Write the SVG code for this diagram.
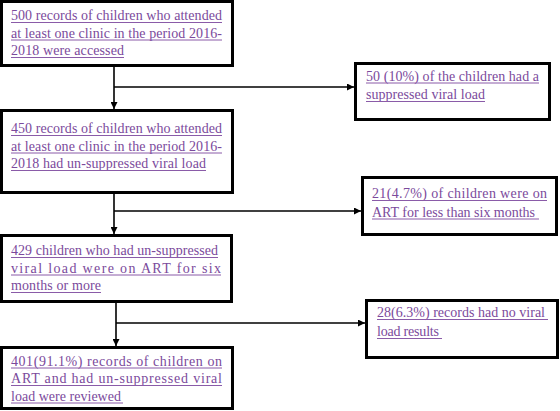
<svg xmlns="http://www.w3.org/2000/svg" width="560" height="411" viewBox="0 0 560 411">
<style>
.box{fill:#fff;stroke:#000;stroke-width:3}
.t{font-family:"Liberation Serif","Times New Roman","DejaVu Serif",serif;font-size:14px;fill:#7B4A9C}
.u{stroke:#8A5BA8;stroke-width:1}
.c{stroke:#000;stroke-width:1.6;fill:none}
</style>
<defs>
<marker id="ah" viewBox="0 0 10 10" refX="10" refY="5" markerWidth="7" markerHeight="7" markerUnits="userSpaceOnUse" orient="auto">
<path d="M0,0 L10,5 L0,10 z" fill="#000"/>
</marker>
</defs>
<rect width="560" height="411" fill="#fff"/>
<g id="connectors">
<path class="c" d="M114,66 V109" marker-end="url(#ah)"/>
<path class="c" d="M114,87 H354" marker-end="url(#ah)"/>
<path class="c" d="M114,193 V234" marker-end="url(#ah)"/>
<path class="c" d="M114,211 H361" marker-end="url(#ah)"/>
<path class="c" d="M116,302 V346" marker-end="url(#ah)"/>
<path class="c" d="M116,323 H365" marker-end="url(#ah)"/>
</g>
<g id="n1">
<rect class="box" x="1.5" y="1.5" width="231" height="64"/>
<text class="t" x="11" y="20" textLength="211" lengthAdjust="spacing">500 records of children who attended</text>
<text class="t" x="11" y="37.5" textLength="211" lengthAdjust="spacing">at least one clinic in the period 2016-</text>
<text class="t" x="11" y="55" textLength="113" lengthAdjust="spacing">2018 were accessed</text>
<path class="u" d="M11,22.5 H222 M11,40 H222 M11,57.5 H124"/>
</g>
<g id="n2">
<rect class="box" x="1.5" y="110.5" width="231" height="82"/>
<text class="t" x="11" y="133" textLength="211" lengthAdjust="spacing">450 records of children who attended</text>
<text class="t" x="11" y="150.5" textLength="211" lengthAdjust="spacing">at least one clinic in the period 2016-</text>
<text class="t" x="11" y="168" textLength="195" lengthAdjust="spacing">2018 had un-suppressed viral load</text>
<path class="u" d="M11,135.5 H222 M11,153 H222 M11,170.5 H206"/>
</g>
<g id="n3">
<rect class="box" x="355.5" y="63.5" width="194" height="56"/>
<text class="t" x="366" y="80.5" textLength="173" lengthAdjust="spacing">50 (10%) of the children had a</text>
<text class="t" x="366" y="99" textLength="119" lengthAdjust="spacing">suppressed viral load</text>
<path class="u" d="M366,83 H539 M366,101.5 H485"/>
</g>
<g id="n4">
<rect class="box" x="362.5" y="177.5" width="194" height="57"/>
<text class="t" x="372" y="198" textLength="175" lengthAdjust="spacing">21(4.7%) of children were on</text>
<text class="t" x="372" y="216.5" textLength="163" lengthAdjust="spacing">ART for less than six months</text>
<path class="u" d="M372,200.5 H547 M372,219 H539"/>
</g>
<g id="n5">
<rect class="box" x="1.5" y="235.5" width="230" height="66"/>
<text class="t" x="11" y="255" textLength="207" lengthAdjust="spacing">429 children who had un-suppressed</text>
<text class="t" x="11" y="272.5" textLength="210" lengthAdjust="spacing">viral load were on ART for six</text>
<text class="t" x="11" y="290" textLength="90" lengthAdjust="spacing">months or more</text>
<path class="u" d="M11,257.5 H218 M11,275 H221 M11,292.5 H101"/>
</g>
<g id="n6">
<rect class="box" x="366.5" y="300.5" width="191" height="57"/>
<text class="t" x="377" y="317" textLength="168" lengthAdjust="spacing">28(6.3%) records had no viral</text>
<text class="t" x="377" y="336" textLength="62" lengthAdjust="spacing">load results</text>
<path class="u" d="M377,319.5 H548 M377,338.5 H442"/>
</g>
<g id="n7">
<rect class="box" x="1.5" y="347.5" width="231" height="61"/>
<text class="t" x="11" y="365.5" textLength="211" lengthAdjust="spacing">401(91.1%) records of children on</text>
<text class="t" x="11" y="383" textLength="211" lengthAdjust="spacing">ART and had un-suppressed viral</text>
<text class="t" x="11" y="400.5" textLength="110" lengthAdjust="spacing">load were reviewed</text>
<path class="u" d="M11,368 H222 M11,385.5 H222 M11,403 H123"/>
</g>
</svg>
